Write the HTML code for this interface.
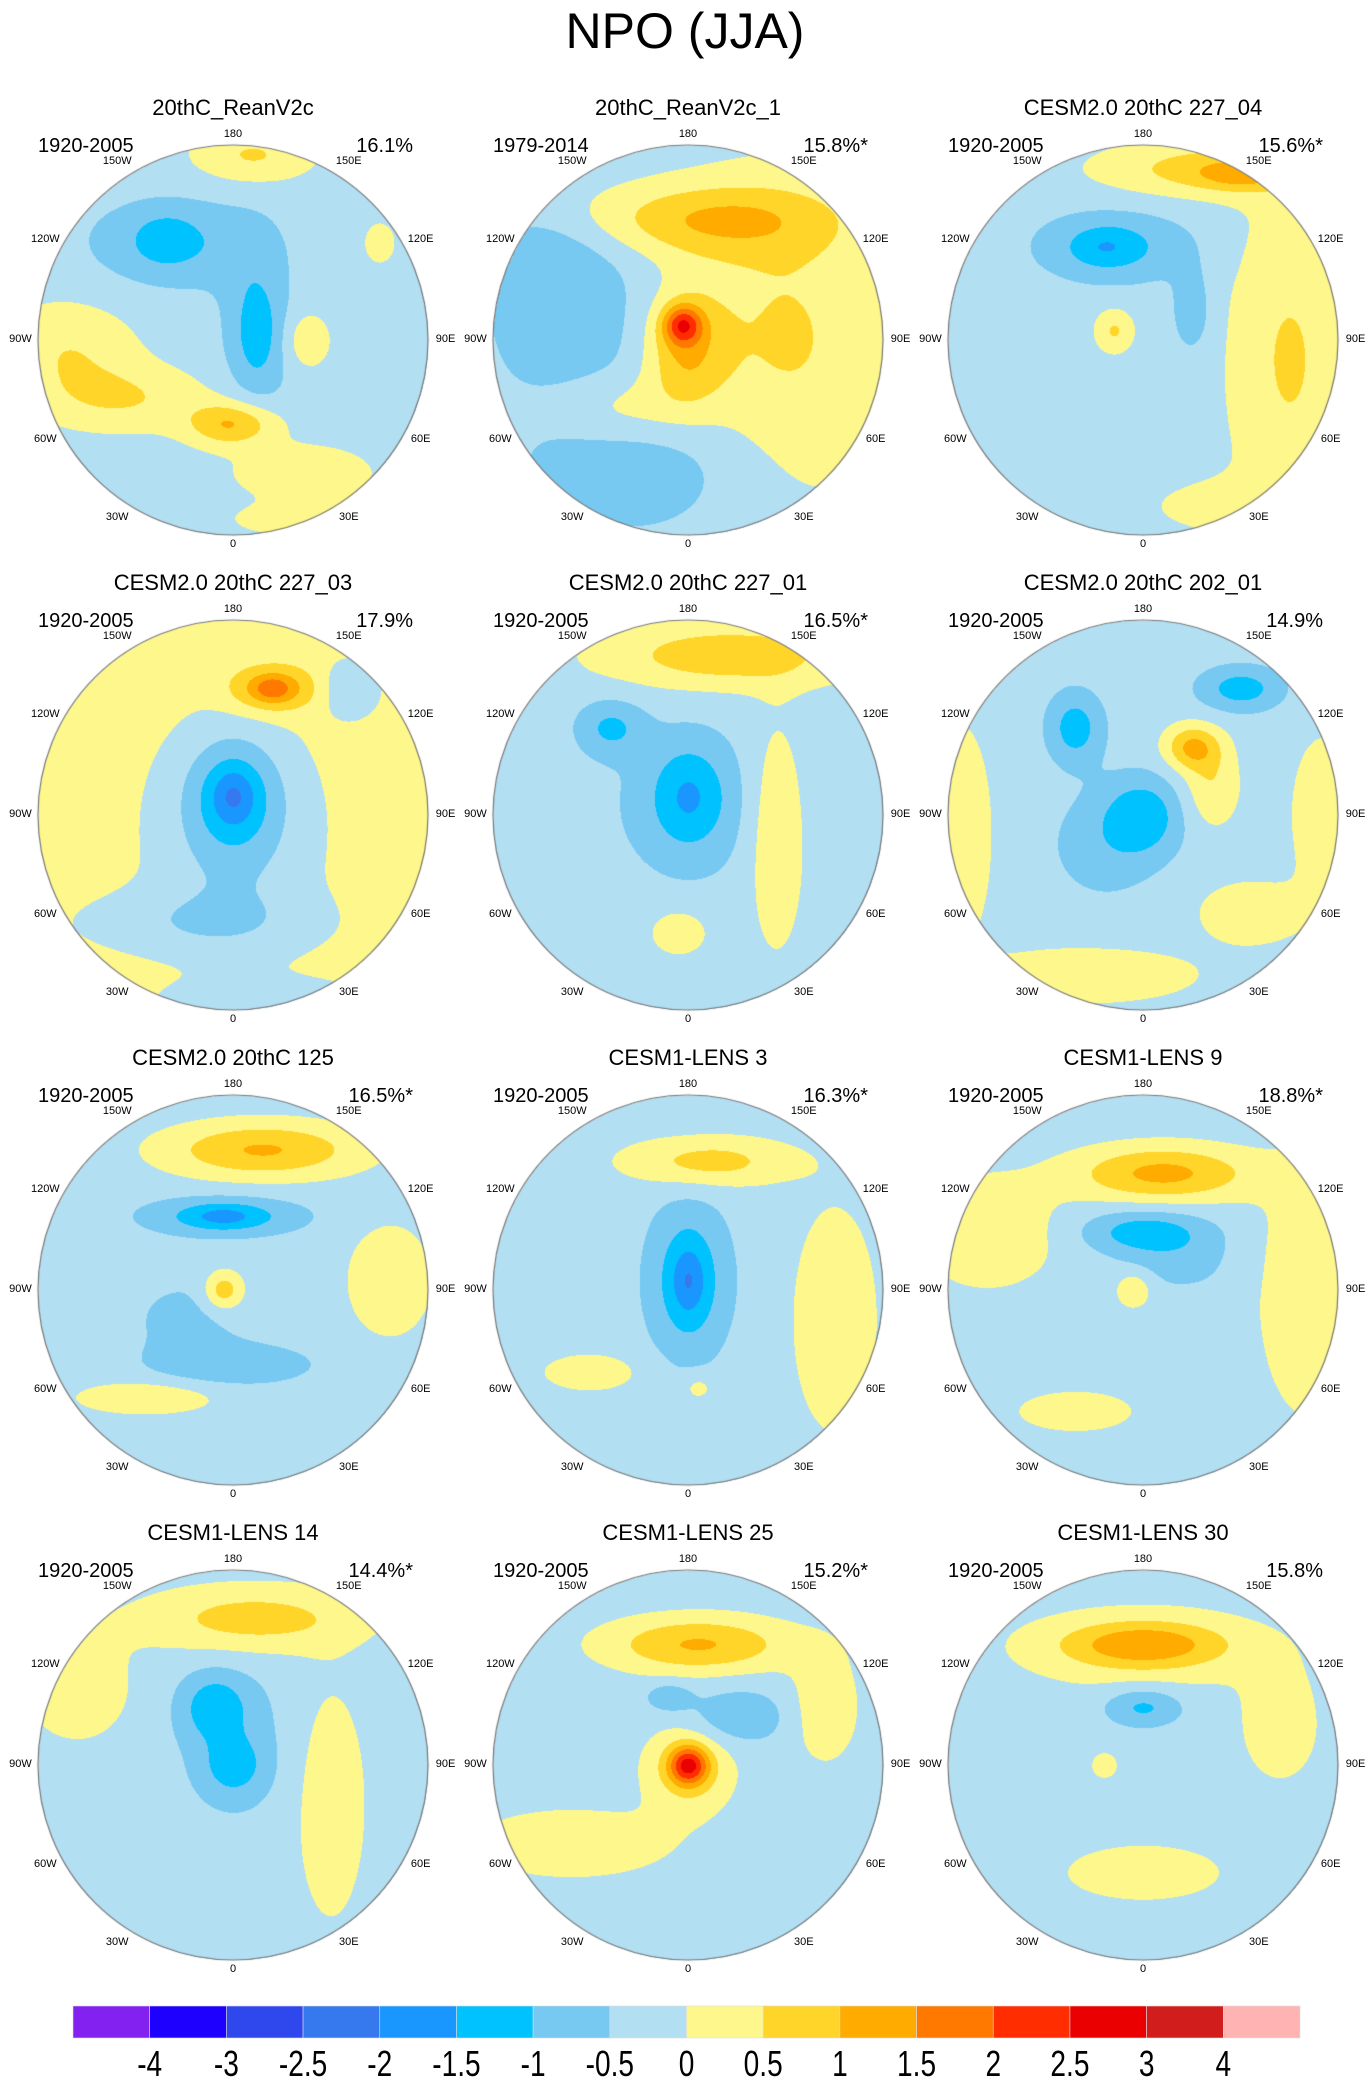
<!DOCTYPE html>
<html><head><meta charset="utf-8">
<style>
html,body{margin:0;padding:0;background:#fff;}
body{width:1370px;height:2082px;position:relative;overflow:hidden;font-family:"Liberation Sans",sans-serif;}
.abs{position:absolute;}
.t{position:absolute;white-space:nowrap;color:#000;}
</style></head>
<body>
<div class="t" style="left:0;width:1370px;text-align:center;top:2px;font-size:50px;">NPO (JJA)</div>
<div id="panels"></div>
<svg id="cbar" class="abs" style="left:0;top:1990px" width="1370" height="92"></svg>
<script>
const levels = [-4,-3,-2.5,-2,-1.5,-1,-0.5,0,0.5,1,1.5,2,2.5,3,4];
const colors = ["#8221f0","#1e00fe","#2f48ee","#3678ee","#1a97ff","#00c2ff","#77c9f2","#b3dff3","#fef78c","#ffd52a","#ffab00","#ff7800","#ff2d00","#ea0000","#d21d1d","#ffb3b3"];
const tickLabels = ["-4","-3","-2.5","-2","-1.5","-1","-0.5","0","0.5","1","1.5","2","2.5","3","4"];

const titles = ["20thC_ReanV2c","20thC_ReanV2c_1","CESM2.0 20thC 227_04","CESM2.0 20thC 227_03","CESM2.0 20thC 227_01","CESM2.0 20thC 202_01","CESM2.0 20thC 125","CESM1-LENS 3","CESM1-LENS 9","CESM1-LENS 14","CESM1-LENS 25","CESM1-LENS 30"];
const periods = ["1920-2005","1979-2014","1920-2005","1920-2005","1920-2005","1920-2005","1920-2005","1920-2005","1920-2005","1920-2005","1920-2005","1920-2005"];
const pcts = ["16.1%","15.8%*","15.6%*","17.9%","16.5%*","14.9%","16.5%*","16.3%*","18.8%*","14.4%*","15.2%*","15.8%"];
const baseVals = [-0.25,-0.25,-0.25,0.2,-0.25,-0.25,-0.25,-0.25,-0.25,-0.25,-0.25,-0.25];
// anomaly centres: [x, y (normalised disc coords), amplitude, spreadX, spreadY]
const anoms = [
 [[0.1,-0.95,0.8,0.22,0.1],[-0.3,-0.5,-0.75,0.3,0.16],[-0.35,-0.52,-0.5,0.1,0.08],[0.12,-0.05,-0.75,0.12,0.3],[0.12,-0.05,-0.4,0.06,0.14],[-0.85,0.05,0.7,0.25,0.18],[-0.55,0.3,0.7,0.3,0.12],[0.0,0.43,1.3,0.16,0.08],[0.35,0.68,0.7,0.25,0.1],[0.38,0.0,0.7,0.08,0.1],[0.35,0.92,0.6,0.25,0.06],[0.75,-0.5,0.55,0.06,0.08]],
 [[0.1,-0.62,1.1,0.45,0.13],[0.5,0.0,0.8,0.4,0.6],[-0.6,-0.1,-0.6,0.3,0.3],[-0.2,0.65,-0.6,0.45,0.25],[-0.02,0.05,1.1,0.14,0.2],[-0.03,-0.08,1.8,0.07,0.07],[-0.75,-0.45,-0.4,0.25,0.15],[-0.35,0.35,0.6,0.25,0.12]],
 [[0.75,0.1,0.8,0.22,0.6],[0.35,-0.88,1.0,0.4,0.1],[0.5,-0.85,0.7,0.15,0.05],[-0.15,-0.48,-0.8,0.28,0.13],[-0.2,-0.48,-0.5,0.12,0.07],[0.25,-0.15,-0.6,0.07,0.15],[-0.15,-0.05,0.8,0.07,0.08],[0.45,0.85,0.5,0.3,0.1]],
 [[0.0,-0.1,-1.1,0.16,0.2],[0.0,-0.1,-0.6,0.07,0.09],[0.0,0.1,-0.7,0.3,0.4],[0.2,-0.65,1.3,0.15,0.08],[0.2,-0.65,0.6,0.06,0.04],[0.6,-0.65,-0.7,0.1,0.1],[-0.2,0.55,-0.5,0.45,0.12],[0.2,0.95,-0.5,0.4,0.08]],
 [[0.2,-0.82,1.1,0.45,0.12],[0.45,0.1,0.75,0.1,0.4],[0.0,-0.1,-0.9,0.13,0.18],[0.0,-0.05,-0.45,0.3,0.3],[-0.4,-0.45,-0.8,0.12,0.1],[-0.05,0.6,0.7,0.1,0.08]],
 [[0.5,-0.65,-1.0,0.15,0.08],[-0.35,-0.45,-1.0,0.1,0.13],[0.0,0.0,-1.0,0.14,0.14],[-0.2,0.15,-0.5,0.2,0.2],[0.25,-0.35,1.3,0.1,0.08],[0.35,-0.15,0.7,0.1,0.15],[-0.95,0.1,0.7,0.12,0.4],[-0.3,0.82,0.7,0.4,0.1],[0.55,0.5,0.6,0.2,0.12],[0.92,0.0,0.6,0.12,0.3]],
 [[0.15,-0.72,1.3,0.35,0.1],[-0.05,-0.38,-1.0,0.28,0.07],[-0.05,-0.38,-0.5,0.12,0.04],[-0.05,0.0,1.1,0.07,0.07],[0.8,-0.05,0.7,0.15,0.2],[0.0,0.38,-0.6,0.3,0.08],[-0.45,0.55,0.7,0.25,0.06],[-0.25,0.15,-0.4,0.2,0.15]],
 [[0.1,-0.66,1.0,0.3,0.09],[0.0,-0.05,-0.9,0.11,0.22],[0.0,-0.05,-0.5,0.05,0.1],[0.0,-0.05,-0.4,0.2,0.35],[0.75,0.15,0.7,0.15,0.4],[-0.5,0.42,0.6,0.18,0.07],[0.05,0.5,0.5,0.06,0.05]],
 [[0.1,-0.6,1.4,0.32,0.1],[-0.8,-0.3,0.7,0.25,0.2],[0.0,-0.3,-1.0,0.22,0.08],[-0.05,0.0,0.8,0.06,0.06],[0.85,0.0,0.7,0.18,0.45],[-0.35,0.62,0.7,0.2,0.07],[0.2,-0.15,-0.4,0.2,0.12]],
 [[0.1,-0.75,1.0,0.4,0.12],[-0.1,-0.3,-0.9,0.12,0.12],[0.0,0.0,-0.8,0.1,0.1],[0.0,-0.1,-0.4,0.22,0.3],[0.5,0.2,0.7,0.12,0.4],[-0.8,-0.4,0.6,0.2,0.2]],
 [[0.05,-0.62,1.3,0.33,0.1],[0.0,0.0,2.2,0.07,0.07],[0.0,0.02,0.9,0.16,0.16],[-0.6,0.4,0.7,0.35,0.12],[0.7,-0.3,0.65,0.12,0.2],[0.25,-0.25,-0.7,0.18,0.1],[-0.1,-0.35,-0.7,0.08,0.05]],
 [[0.0,-0.62,1.2,0.28,0.08],[0.0,-0.6,0.55,0.5,0.16],[0.0,-0.3,-0.9,0.14,0.07],[0.7,-0.2,0.6,0.14,0.2],[0.0,0.55,0.65,0.28,0.1],[-0.2,0.0,0.55,0.05,0.05]]
];
const lonLabels = ["180","150E","120E","90E","60E","30E","0","30W","60W","90W","120W","150W"];
const lonVals = [180,150,120,90,60,30,0,-30,-60,-90,-120,-150];

const colX = [233,688,1143], rowY = [340,815,1290,1765], R = 195;
const container = document.getElementById('panels');

function colorFor(v){ let i=0; while(i<levels.length && v>=levels[i]) i++; return colors[i]; }
function hex(c){return [parseInt(c.substr(1,2),16),parseInt(c.substr(3,2),16),parseInt(c.substr(5,2),16)];}
function labelAngle(L){ const s=Math.sign(L), a=Math.abs(L); const m={0:0,30:33,60:62,90:90,120:118,150:147,180:180}; return s*(m[a]!==undefined?m[a]:a); }

titles.forEach((title,p)=>{
  const cx = colX[p%3], cy = rowY[Math.floor(p/3)];
  const g = document.createElement('div');
  
  
  container.appendChild(g);
  const tt = document.createElement('div'); tt.className='t'; tt.textContent=title;
  
  
  tt.style.cssText=`left:${cx-250}px;width:500px;text-align:center;top:${cy-245}px;font-size:22px;`;
  g.appendChild(tt);
  const yr = document.createElement('div'); yr.className='t'; yr.textContent=periods[p];
  
  
  yr.style.cssText=`left:${cx-195}px;top:${cy-205}px;font-size:20px;`;
  g.appendChild(yr);
  const pc = document.createElement('div'); pc.className='t'; pc.textContent=pcts[p];
  
  
  pc.style.cssText=`left:${cx+20}px;width:160px;text-align:right;top:${cy-205}px;font-size:20px;`;
  g.appendChild(pc);
  const cv = document.createElement('canvas');
  cv.width=2*R+4; cv.height=2*R+4;
  cv.className='abs'; cv.style.left=(cx-R-2)+'px'; cv.style.top=(cy-R-2)+'px';
  
  
  g.appendChild(cv);
  const ctx = cv.getContext('2d');
  const img = ctx.createImageData(cv.width,cv.height);
  const A = anoms[p];
  for(let py=0;py<cv.height;py++){
    for(let px=0;px<cv.width;px++){
      const x=(px-R-2)/R, y=(py-R-2)/R;
      if(x*x+y*y>1) continue;
      let v=baseVals[p];
      for(const a of A){ const dx=(x-a[0])/a[3], dy=(y-a[1])/a[4]; v+=a[2]*Math.exp(-0.5*(dx*dx+dy*dy)); }
      const c=hex(colorFor(v)); const k=4*(py*cv.width+px);
      img.data[k]=c[0];img.data[k+1]=c[1];img.data[k+2]=c[2];img.data[k+3]=255;
    }
  }
  ctx.putImageData(img,0,0);
  ctx.beginPath(); ctx.arc(R+2,R+2,R,0,Math.PI*2); ctx.strokeStyle='#777'; ctx.lineWidth=1.2; ctx.stroke();
  lonVals.forEach((L,i)=>{
    const a=labelAngle(L)*Math.PI/180, rr=(Math.abs(L)===180||L===0)?R*1.05:R*1.09;
    const lx=cx+rr*Math.sin(a), ly=cy+rr*Math.cos(a);
    const lb=document.createElement('div'); lb.className='t'; lb.textContent=lonLabels[i];
    
    
    lb.style.cssText=`left:${lx-30}px;width:60px;text-align:center;top:${ly-7}px;font-size:11px;`;
    g.appendChild(lb);
  });
});

const svg=document.getElementById('cbar'), ns="http://www.w3.org/2000/svg";
const x0=73, x1=1300, bw=(x1-x0)/colors.length;
colors.forEach((c,i)=>{
  const r=document.createElementNS(ns,'rect');
  r.setAttribute('x',x0+i*bw); r.setAttribute('y',16); r.setAttribute('width',bw); r.setAttribute('height',32);
  r.setAttribute('fill',c); r.setAttribute('stroke','#ddd'); r.setAttribute('stroke-width','0.6');
  
  
  svg.appendChild(r);
});
tickLabels.forEach((t,i)=>{
  const tx=document.createElementNS(ns,'text');
  const x=x0+(i+1)*bw;
  tx.setAttribute('x',0); tx.setAttribute('y',0);
  tx.setAttribute('transform',`translate(${x},86) scale(0.78,1)`);
  tx.setAttribute('text-anchor','middle'); tx.setAttribute('font-size','36');
  tx.setAttribute('font-family','Liberation Sans, sans-serif');
  tx.textContent=t;
  
  
  svg.appendChild(tx);
});
</script>
</body></html>
